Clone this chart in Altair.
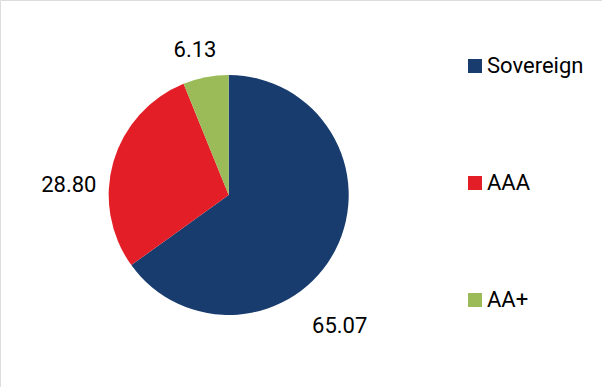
import altair as alt
import pandas as pd

categories = ["Sovereign", "AAA", "AA+"]
values = [65.07, 28.80, 6.13]
labels = ["65.07", "28.80", "6.13"]
colors = ["#183C6E", "#E31E26", "#9BBB59"]

df = pd.DataFrame({
    "category": categories,
    "value": values,
    "label": labels,
    "order": list(range(len(categories))),
})

CX, CY, R = 228.7, 195, 120
FONT = "Roboto"

pie = alt.Chart(df).mark_arc(radius=R, stroke=None).encode(
    theta=alt.Theta("value:Q", stack=True),
    order=alt.Order("order:Q"),
    x=alt.value(CX), y=alt.value(CY),
    color=alt.Color(
        "category:N",
        scale=alt.Scale(domain=categories, range=colors),
        legend=alt.Legend(
            title=None, orient="none", legendX=464, legendY=55,
            padding=0, offset=0,
            symbolType="square", symbolSize=196, symbolStrokeWidth=0,
            labelFont=FONT, labelFontSize=22, labelFontWeight="normal",
            labelColor="#000000", labelOffset=1, rowPadding=95,
            symbolOpacity=1,
        ),
    ),
)

stacked = alt.Chart(df).transform_window(
    cum="sum(value)", sort=[alt.SortField("order")]
).transform_calculate(
    mid="datum.cum - datum.value / 2"
)

offsets = {"Sovereign": (-27, 60), "AAA": (-11, 33), "AA+": (-4, 7)}
text_layers = []
for cat in categories:
    ddx, ddy = offsets[cat]
    text_layers.append(
        stacked.transform_filter(alt.datum.category == cat)
        .mark_text(radius=155, font=FONT, fontSize=22, fontWeight="normal",
                   color="#000000", baseline="middle", align="center",
                   dx=ddx, dy=ddy)
        .encode(
            theta=alt.Theta("mid:Q", stack=None,
                            scale=alt.Scale(domain=[0, 100], range=[0, 6.283185307179586])),
            x=alt.value(CX), y=alt.value(CY), text="label:N",
        )
    )

chart = alt.layer(pie, *text_layers).resolve_scale(theta="independent").properties(
    width=602, height=387,
    autosize=alt.AutoSizeParams(type="none"),
    padding=0,
).configure_view(stroke=None).configure(background="white")

chart.save("out.html", embed_options={"renderer": "svg", "actions": False})
